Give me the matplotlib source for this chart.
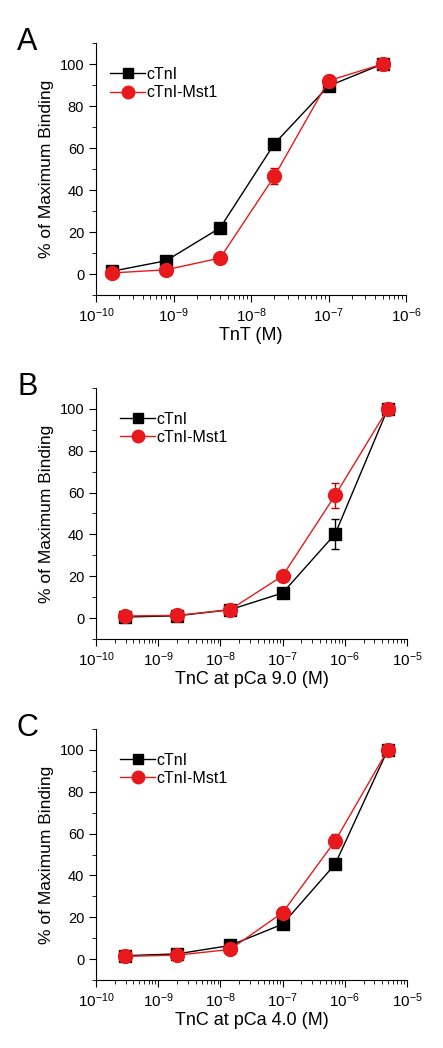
import matplotlib

matplotlib.use("Agg")
import matplotlib.pyplot as plt
import numpy as np
from matplotlib.lines import Line2D
from matplotlib.ticker import LogLocator, MultipleLocator, NullFormatter

plt.rcParams["font.family"] = ["Liberation Sans", "DejaVu Sans"]
plt.rcParams["mathtext.fontset"] = "custom"
plt.rcParams["mathtext.rm"] = "Liberation Sans"

RED = "#e8191c"

# Panel A: TnT concentrations (5-fold dilutions)
CONC_A = [1.6e-10, 8e-10, 4e-9, 2e-8, 1e-7, 5e-7]
A_CTNI = [1.3, 6.3, 22.0, 62.0, 89.5, 100.0]
A_CTNI_ERR = [0.5, 0.8, 1.0, 1.2, 2.5, 0.5]
A_MST1 = [0.5, 2.0, 7.6, 46.5, 92.0, 100.0]
A_MST1_ERR = [0.4, 0.5, 0.8, 3.8, 3.0, 0.5]

# Panels B and C: TnC concentrations (7-fold dilutions)
CONC_BC = [2.9e-10, 2.04e-9, 1.43e-8, 1e-7, 7e-7, 4.9e-6]
B_CTNI = [0.5, 1.1, 4.0, 12.0, 40.2, 100.0]
B_CTNI_ERR = [0.3, 0.4, 0.6, 1.0, 7.0, 0.5]
B_MST1 = [1.0, 1.3, 4.0, 20.2, 58.7, 100.0]
B_MST1_ERR = [0.3, 0.4, 0.6, 1.0, 6.0, 0.5]

C_CTNI = [1.6, 2.5, 6.5, 16.7, 45.4, 100.0]
C_CTNI_ERR = [0.3, 0.4, 0.6, 1.0, 1.2, 0.5]
C_MST1 = [1.3, 1.9, 4.6, 22.2, 56.5, 100.0]
C_MST1_ERR = [0.3, 0.4, 0.6, 1.0, 3.5, 0.5]

PANELS = [
    ("A", CONC_A, A_CTNI, A_CTNI_ERR, A_MST1, A_MST1_ERR, "TnT (M)", (1e-10, 1e-6), 0.045),
    ("B", CONC_BC, B_CTNI, B_CTNI_ERR, B_MST1, B_MST1_ERR, "TnC at pCa 9.0 (M)", (1e-10, 1e-5), 0.077),
    ("C", CONC_BC, C_CTNI, C_CTNI_ERR, C_MST1, C_MST1_ERR, "TnC at pCa 4.0 (M)", (1e-10, 1e-5), 0.077),
]

W, H = 443, 1048
# axes boxes in pixels: left, top, right, bottom
BOXES = [(96, 43, 406, 295), (96, 388, 407, 639), (96, 729, 407, 980)]


def _draw(fig, box, letter, conc, ctni, ctni_err, mst1, mst1_err, xlabel, xlim, leg_x):
    l, t, r, b = box
    ax = fig.add_axes([l / W, 1 - b / H, (r - l) / W, (b - t) / H])
    ax.errorbar(conc, ctni, yerr=ctni_err, color="black", marker="s", ms=8,
                lw=1, capsize=3, elinewidth=1, zorder=3)
    ax.errorbar(conc, mst1, yerr=mst1_err, color=RED, ecolor="#c00000",
                marker="o", ms=10, lw=1, capsize=3, elinewidth=1, zorder=4)
    ax.set_xscale("log")
    ax.set_xlim(*xlim)
    ax.set_ylim(-10, 110)
    ax.yaxis.set_major_locator(MultipleLocator(20))
    ax.yaxis.set_minor_locator(MultipleLocator(10))
    ax.xaxis.set_major_locator(LogLocator(base=10, numticks=10))
    ax.xaxis.set_minor_locator(LogLocator(base=10, subs=np.arange(2, 10), numticks=20))
    ax.xaxis.set_minor_formatter(NullFormatter())
    for side in ("top", "right"):
        ax.spines[side].set_visible(False)
    ax.tick_params(which="major", direction="out", length=5)
    ax.tick_params(which="minor", direction="out", length=3)
    ax.tick_params(axis="x", labelsize=11)
    ax.tick_params(axis="y", labelsize=10.5)
    ax.set_xlabel(xlabel, fontsize=13, labelpad=1)
    ax.set_ylabel("% of Maximum Binding", fontsize=12.5, labelpad=4)
    handles = [
        Line2D([], [], color="black", marker="s", ms=7, lw=1),
        Line2D([], [], color=RED, marker="o", ms=9, lw=1),
    ]
    ax.legend(handles, ["cTnI", "cTnI-Mst1"], loc="upper left",
              bbox_to_anchor=(leg_x, 0.905), frameon=False, fontsize=11.5,
              handlelength=2.2, handletextpad=0.1, labelspacing=0.2,
              borderaxespad=0, borderpad=0)
    fig.text(17 / W, 1 - (t - 1) / H, letter, fontsize=22, va="center", ha="left")


def main():
    fig = plt.figure(figsize=(W / 100, H / 100), dpi=100)
    for box, panel in zip(BOXES, PANELS):
        _draw(fig, box, *panel)
    fig.savefig("out.png", dpi=100)


if __name__ == "__main__":
    main()
